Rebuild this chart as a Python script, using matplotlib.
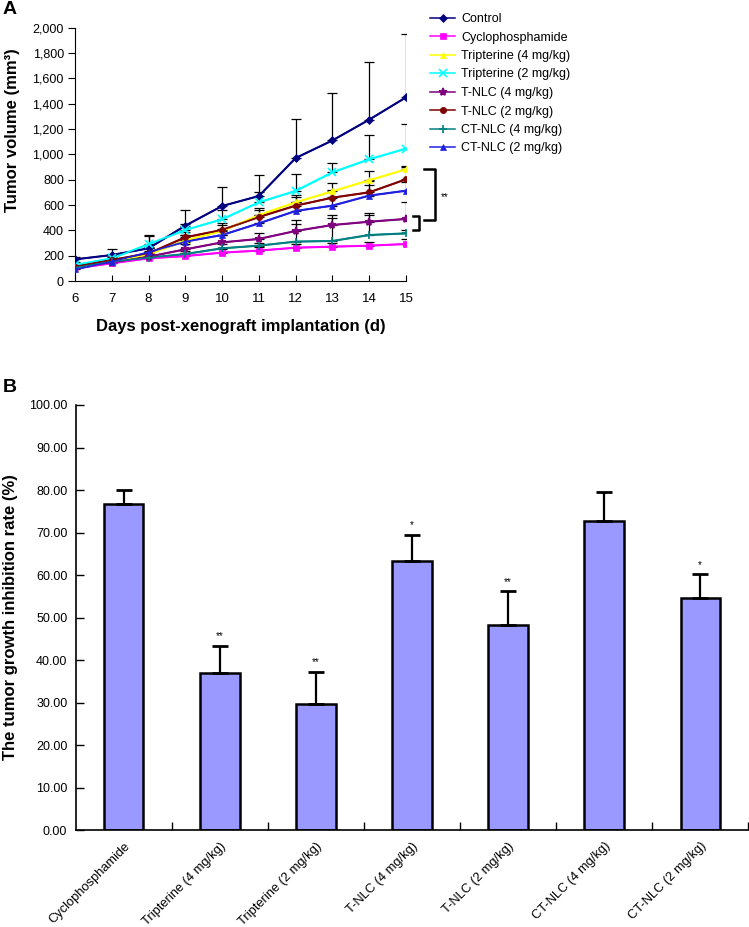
import numpy as np
import matplotlib.pyplot as plt
from matplotlib.ticker import StrMethodFormatter
from matplotlib.transforms import ScaledTranslation

plt.rcParams['font.family'] = ['Liberation Sans', 'DejaVu Sans']

# Panel A: tumour volume over time
days = [6, 7, 8, 9, 10, 11, 12, 13, 14, 15]
groups = ['Control', 'Cyclophosphamide', 'Tripterine (4 mg/kg)', 'Tripterine (2 mg/kg)',
          'T-NLC (4 mg/kg)', 'T-NLC (2 mg/kg)', 'CT-NLC (4 mg/kg)', 'CT-NLC (2 mg/kg)']
control = [171, 205, 258, 437, 592, 671, 971, 1110, 1274, 1450]
cyclo = [100, 140, 179, 197, 224, 240, 263, 271, 279, 292]
trip4 = [100, 153, 210, 320, 395, 520, 621, 708, 795, 882]
trip2 = [126, 179, 290, 403, 487, 621, 711, 858, 961, 1045]
tnlc4 = [113, 145, 192, 250, 305, 332, 395, 442, 468, 490]
tnlc2 = [113, 166, 218, 345, 403, 505, 595, 658, 700, 803]
ctnlc4 = [105, 153, 184, 213, 258, 279, 311, 316, 363, 376]
ctnlc2 = [92, 153, 226, 311, 363, 455, 553, 595, 674, 713]

# upper error bar tops
control_top = [190, 250, 363, 560, 745, 840, 1276, 1487, 1729, 1947]
cyclo_top = [115, 160, 200, 222, 250, 265, 290, 300, 310, 330]
trip4_top = [120, 180, 240, 360, 440, 580, 680, 770, 870, 910]
trip2_top = [150, 210, 355, 450, 560, 700, 842, 934, 1150, 1240]
tnlc4_top = [130, 170, 230, 290, 360, 380, 481, 520, 540, 620]
tnlc2_top = [130, 190, 260, 390, 460, 560, 660, 720, 790, 900]
ctnlc4_top = [120, 170, 210, 240, 290, 300, 450, 500, 520, 400]
ctnlc2_top = [110, 180, 270, 360, 410, 520, 620, 660, 760, 780]

means = [control, cyclo, trip4, trip2, tnlc4, tnlc2, ctnlc4, ctnlc2]
tops = [control_top, cyclo_top, trip4_top, trip2_top, tnlc4_top, tnlc2_top, ctnlc4_top, ctnlc2_top]
colors = ['#000080', '#FF00FF', '#FFFF00', '#00FFFF', '#800080', '#800000', '#008080', '#2020E0']
markers = ['D', 's', '^', 'x', '*', 'o', '+', '^']
msizes = [4, 4.5, 5, 5.5, 6, 4.5, 6, 5]

# Panel B: growth inhibition rate
bar_labels = ['Cyclophosphamide', 'Tripterine (4 mg/kg)', 'Tripterine (2 mg/kg)',
              'T-NLC (4 mg/kg)', 'T-NLC (2 mg/kg)', 'CT-NLC (4 mg/kg)', 'CT-NLC (2 mg/kg)']
inhibition = [76.7, 36.9, 29.6, 63.4, 48.2, 72.7, 54.6]
inhibition_sd = [3.3, 6.5, 7.7, 6.1, 8.0, 6.8, 5.7]
signif = ['', '**', '**', '*', '**', '', '*']

fig = plt.figure(figsize=(7.49, 9.27), dpi=100)

# ---- A ----
ax = fig.add_axes([75 / 749, 1 - 281 / 927, 331 / 749, 253.3 / 927])
for m, t, c, mk, ms, lab in zip(means, tops, colors, markers, msizes, groups):
    err = np.array(t) - np.array(m)
    ax.errorbar(days, m, yerr=[np.zeros_like(err), err], color=c, ecolor='black',
                elinewidth=0.9, capsize=3.5, capthick=0.9, zorder=2)
    ax.plot(days, m, color=c, marker=mk, markersize=ms, lw=1.1, label=lab,
            markeredgewidth=1.2 if mk in 'x+*' else 0.5, zorder=3)

ax.set_xlim(6, 15)
ax.set_ylim(0, 2000)
ax.set_xticks(days)
ax.set_yticks(range(0, 2001, 200))
ax.yaxis.set_major_formatter(StrMethodFormatter('{x:,.0f}'))
ax.spines['top'].set_visible(False)
ax.spines['right'].set_visible(False)
ax.tick_params(axis='y', direction='out', length=5, labelsize=9, pad=3)
ax.tick_params(axis='x', direction='in', length=4, labelsize=9.5, pad=9)
ax.set_xlabel('Days post-xenograft implantation (d)', fontsize=12, fontweight='bold', labelpad=10)
fig.text(13 / 749, 1 - 130 / 927, 'Tumor volume (mm³)', rotation=90, fontsize=12,
         fontweight='bold', ha='center', va='center')

# significance brackets
ax.plot([15.48, 15.78, 15.78, 15.48], [884, 884, 482, 482], color='black', lw=1.8, clip_on=False)
ax.plot([15.19, 15.35, 15.35, 15.19], [513, 513, 400, 400], color='black', lw=1.8, clip_on=False)
ax.text(15.95, 664, '**', fontsize=7, ha='left', va='center')

ax.legend(loc='upper left', bbox_to_anchor=(430 / 749, 1 - 13 / 927), bbox_transform=fig.transFigure,
          frameon=False, fontsize=9, handlelength=2.0, handletextpad=0.5, labelspacing=0.52,
          borderpad=0, borderaxespad=0)
fig.text(3 / 749, 1 - 9 / 927, 'A', fontsize=14, fontweight='bold', ha='left', va='center')

# ---- B ----
bx = fig.add_axes([75.7 / 749, 1 - 830.3 / 927, 672.6 / 749, 425.3 / 927])
x = np.arange(len(bar_labels))
bx.bar(x, inhibition, width=0.41, color='#9999FF', edgecolor='black', linewidth=1.8, zorder=2)
bx.errorbar(x, inhibition, yerr=[np.zeros(len(x)), inhibition_sd], fmt='none', ecolor='black',
            elinewidth=1.6, capsize=6, capthick=2, zorder=3)
for xi, v, s, sig in zip(x, inhibition, inhibition_sd, signif):
    if sig:
        bx.annotate(sig, (xi, v + s), xytext=(0, 3), textcoords='offset points',
                    ha='center', va='bottom', fontsize=7)

bx.set_xlim(-0.5, len(x) - 0.5)
bx.set_ylim(0, 100)
bx.set_yticks(np.arange(0, 101, 10))
bx.yaxis.set_major_formatter(StrMethodFormatter('{x:.2f}'))
bx.set_xticks(x + 0.5)
bx.set_xticklabels([])
bx.set_xticks(x, minor=True)
bx.set_xticklabels(bar_labels, minor=True, rotation=45, ha='right', rotation_mode='anchor')
shift = ScaledTranslation(-6 / 100, 0, fig.dpi_scale_trans)
for lbl in bx.get_xticklabels(minor=True):
    lbl.set_transform(lbl.get_transform() + shift)
bx.tick_params(axis='x', which='major', direction='in', length=6, width=1)
bx.tick_params(axis='x', which='minor', length=0, labelsize=9.3, pad=7)
bx.tick_params(axis='y', direction='in', length=6, width=1, labelsize=9, pad=6)
bx.spines['top'].set_visible(False)
bx.spines['right'].set_visible(False)
for sp in ('left', 'bottom'):
    bx.spines[sp].set_linewidth(1.2)
fig.text(11 / 749, 1 - 617 / 927, 'The tumor growth inhibition rate (%)', rotation=90, fontsize=12,
         fontweight='bold', ha='center', va='center')
fig.text(3 / 749, 1 - 388 / 927, 'B', fontsize=14, fontweight='bold', ha='left', va='center')

fig.savefig('out.png', dpi=100)
